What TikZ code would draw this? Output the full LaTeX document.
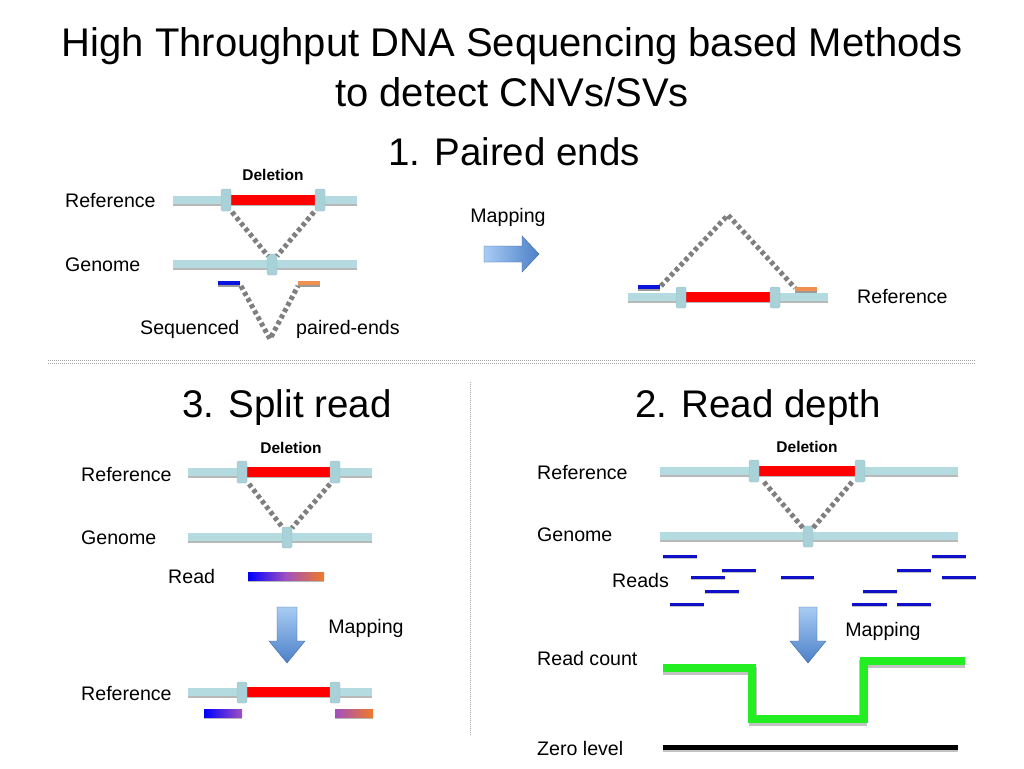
\documentclass[tikz,border=0pt]{standalone}
\usepackage{fontspec}
\setmainfont{Liberation Sans}
\usetikzlibrary{calc}
\definecolor{barblue}{HTML}{B4DCE0}
\definecolor{tabblue}{HTML}{A8D2D8}
\definecolor{shadowgrey}{HTML}{9A9A9A}
\definecolor{dotgrey}{HTML}{7F7F7F}
\definecolor{readblue}{HTML}{1010C8}
\definecolor{peblue}{HTML}{0A14DC}
\definecolor{peorange}{HTML}{F09050}
\definecolor{arrlight}{HTML}{A8CCF4}
\definecolor{arrdark}{HTML}{4C80C8}
\definecolor{stepgreen}{HTML}{22EE22}
\definecolor{srpurple}{HTML}{A050C0}
\definecolor{srorange}{HTML}{F07A28}
\tikzset{
  titletext/.style={font=\fontsize{40}{46}\selectfont, inner sep=0pt},
  headtext/.style={font=\fontsize{38.5}{44}\selectfont, inner sep=0pt},
  lbl/.style={font=\fontsize{19.6}{23}\selectfont, inner sep=0pt},
  dellbl/.style={font=\bfseries\fontsize{15.5}{18}\selectfont, inner sep=0pt},
  barshadow/.style={draw=shadowgrey!70, line width=8pt},
  barline/.style={draw=barblue, line width=8pt},
  delbar/.style={draw=red, line width=10pt},
  tabfill/.style={fill=tabblue, draw=tabblue!80!gray, line width=0.4pt, rounded corners=1.5pt},
  dotline/.style={draw=dotgrey, line width=5pt, dash pattern=on 4pt off 3pt},
  shortread/.style={draw=readblue, line width=3pt},
  sepline/.style={draw=gray!70, line width=0.8pt, dash pattern=on 1pt off 1pt},
}
\newcommand\mybar[3]{%
  \draw[barshadow] (#1,#3+2) -- (#2,#3+2);
  \draw[barline] (#1,#3) -- (#2,#3);}
\newcommand\mytab[3]{%
  \filldraw[tabfill] (#1-5,#2) rectangle (#1+5,#3);}
\begin{document}
\begin{tikzpicture}[x=1pt,y=-1pt]
\useasboundingbox (0,0) rectangle (1024,768);
\fill[white] (0,0) rectangle (1024,768);

% Titles
\node[titletext] (t1) at (512,46) {High Throughput DNA Sequencing based Methods};
\node[titletext] (t2) at (512,92) {to detect CNVs/SVs};
\node[headtext] (h1) at (514,152) {1. Paired ends};
\node[headtext] (h3) at (287,408) {3. Split read};
\node[headtext] (h2) at (758,408) {2. Read depth};

% ---------- Section 1: Paired ends ----------
\node[dellbl] (d1) at (273,175) {Deletion};
\node[lbl, anchor=west] (r1) at (65,201) {Reference};
\node[lbl, anchor=west] (g1) at (65,265) {Genome};
\node[lbl, anchor=west] (s1) at (140,329) {Sequenced};
\node[lbl, anchor=west] (p1) at (296,329) {paired-ends};

\mybar{173}{357}{200}
\draw[delbar] (229,200) -- (319,200);
\mytab{226}{189}{211}
\mytab{320}{189}{211}
\mybar{173}{357}{264}
\mytab{272}{254}{275}
\draw[dotline] (232,212) -- (268,256);
\draw[dotline] (314,212) -- (277,256);
\draw[shadowgrey, line width=4pt] (218,284.5) -- (240,284.5);
\draw[peblue, line width=4pt] (218,283) -- (240,283);
\draw[shadowgrey, line width=4pt] (298,284.5) -- (320,284.5);
\draw[peorange, line width=4pt] (298,283) -- (320,283);
\coordinate (v1) at (270,339);
\draw[dotline] (241,286) -- (v1) -- (298,286);

% Mapping arrow (right)
\node[lbl] (m1) at (508,217) {Mapping};
\shade[left color=arrlight, right color=arrdark, draw=arrdark!80!black, line width=0.4pt]
  (484,246) -- (522,246) -- (522,236) -- (539,254) -- (522,272) -- (522,262) -- (484,262) -- cycle;

% Mapped reference
\node[lbl, anchor=west] (r1b) at (857,296) {Reference};
\mybar{628}{828}{297}
\draw[delbar] (684,297) -- (773,297);
\mytab{681}{287}{308}
\mytab{775}{287}{308}
\draw[shadowgrey, line width=4pt] (638,288.5) -- (660,288.5);
\draw[peblue, line width=4pt] (638,287) -- (660,287);
\draw[shadowgrey, line width=4pt] (795,290.5) -- (817,290.5);
\draw[peorange, line width=4pt] (795,289) -- (817,289);
\coordinate (v2) at (728,215);
\draw[dotline] (661,286) -- (v2) -- (795,288);

% separators
\draw[sepline] (48,360) -- (975,360);
\draw[sepline] (48,363) -- (975,363);
\draw[sepline] (470,382) -- (470,735);

% ---------- Section 3: Split read ----------
\node[dellbl] (d3) at (291,448) {Deletion};
\node[lbl, anchor=west] (r3) at (81,474) {Reference};
\node[lbl, anchor=west] (g3) at (81,538) {Genome};
\node[lbl, anchor=west] (rd3) at (168,576) {Read};
\node[lbl] (m3) at (366,628) {Mapping};
\node[lbl, anchor=west] (r3b) at (81,693) {Reference};

\mybar{188}{372}{472}
\draw[delbar] (244,472) -- (334,472);
\mytab{242}{461}{483}
\mytab{335}{461}{483}
\mybar{188}{372}{537}
\mytab{287}{527}{548}
\draw[dotline] (249,484) -- (283,528);
\draw[dotline] (330,484) -- (292,528);
\fill[shadowgrey!70] (248,574) rectangle (324,582);
\shade[left color=blue, right color=srorange, middle color=srpurple] (248,572) rectangle (324,580);

\shade[top color=arrlight, bottom color=arrdark, draw=arrdark!80!black, line width=0.4pt]
  (277,607) -- (297,607) -- (297,641) -- (305,641) -- (287,663) -- (269,641) -- (277,641) -- cycle;

\mybar{188}{372}{692}
\draw[delbar] (244,692) -- (332,692);
\mytab{242}{682}{703}
\mytab{335}{682}{703}
\fill[shadowgrey!70] (204,711) rectangle (242,719);
\shade[left color=blue, right color=srpurple] (204,709) rectangle (242,717);
\fill[shadowgrey!70] (335,711) rectangle (373,719);
\shade[left color=srpurple, right color=srorange] (335,709) rectangle (373,717);

% ---------- Section 2: Read depth ----------
\node[dellbl] (d2) at (807,447) {Deletion};
\node[lbl, anchor=west] (r2) at (537,472) {Reference};
\node[lbl, anchor=west] (g2) at (537,535) {Genome};
\node[lbl, anchor=west] (rs2) at (612,580) {Reads};
\node[lbl] (m2) at (883,631) {Mapping};
\node[lbl, anchor=west] (rc2) at (537,658) {Read count};
\node[lbl, anchor=west] (z2) at (537,748) {Zero level};

\mybar{660}{958}{471}
\draw[delbar] (756,471) -- (858,471);
\mytab{754}{460}{482}
\mytab{860}{460}{482}
\mybar{660}{958}{536}
\mytab{808}{526}{547}
\draw[dotline] (764,482) -- (803,528);
\draw[dotline] (852,482) -- (813,528);

\foreach \xa/\xb/\yy in {663/697/556, 932/966/556, 722/756/570, 897/931/570,
  691/725/577, 781/814/577, 942/976/577, 705/739/591, 863/897/591,
  670/704/604, 852/887/604, 897/931/604}
  {\draw[shadowgrey!60, line width=2pt] (\xa,\yy+1.5) -- (\xb,\yy+1.5);
   \draw[shortread] (\xa,\yy) -- (\xb,\yy);}

\shade[top color=arrlight, bottom color=arrdark, draw=arrdark!80!black, line width=0.4pt]
  (799,607) -- (817,607) -- (817,641) -- (826,641) -- (808,663) -- (790,641) -- (799,641) -- cycle;

\draw[shadowgrey!60, line width=8pt, line join=miter]
  (663,671) -- (753,671) -- (753,722) -- (863,722) -- (863,664) -- (965,664);
\draw[stepgreen, line width=8pt, line join=miter]
  (663,668) -- (752,668) -- (752,719) -- (864,719) -- (864,661) -- (965,661);

\draw[shadowgrey!60, line width=5pt] (663,749) -- (958,749);
\draw[black, line width=5pt] (663,747) -- (958,747);
\end{tikzpicture}
\end{document}
